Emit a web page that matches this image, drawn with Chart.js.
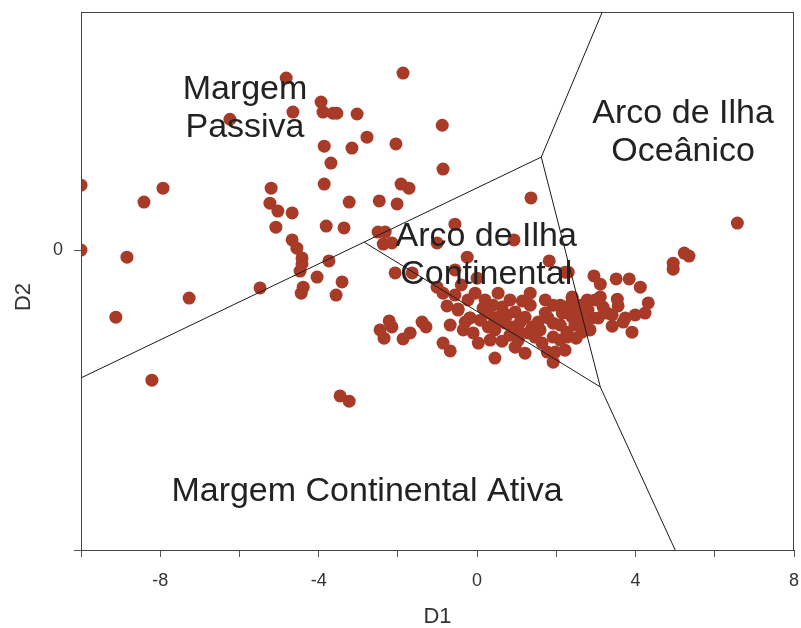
<!DOCTYPE html>
<html>
<head>
<meta charset="utf-8">
<script src="https://cdn.jsdelivr.net/npm/chart.js@4.4.1/dist/chart.umd.min.js"></script>
<style>
  html, body { margin: 0; padding: 0; background: #fff; }
  #wrap { width: 801px; height: 628px; }
</style>
</head>
<body>
<div id="wrap"><canvas id="DataChart" width="801" height="628"></canvas></div>
<script>
// discriminant scores
const d1 = [
  -10.0, -10.0, -7.93, -8.41, -8.84, -9.12, -7.27, -8.21, -6.24, -5.48,
  -4.82, -4.65, -5.20, -5.23, -5.03, -4.67, -5.08, -4.67, -4.55, -4.42,
  -4.42, -4.47, -4.39, -4.44, -4.04, -3.74, -3.41, -3.56, -3.46, -3.23,
  -1.87, -3.94, -3.89, -3.64, -3.54, -3.03, -3.86, -3.16, -2.78, -2.05,
  -3.69, -3.86, -3.23, -2.47, -2.02, -1.92, -1.72, -3.81, -3.36, -2.50,
  -2.32, -2.37, -2.15, -0.88, -0.86, 1.36, -0.56, -1.01, 0.93, -0.25,
  -0.56, 1.82, 2.22, 0.00, -2.07, -1.64,
  -2.22, -2.15, -2.45, -2.35, -1.69, -1.87, -1.39, -1.29, -0.68, -0.86,
  -0.68, -0.76, -0.48, -1.01, -0.86,
  -0.40, -0.05, 0.53, 1.14, 1.92, 2.40, -0.48, -0.18, 0.40, 0.63,
  0.08, 0.28, -0.10, 0.03, 0.45, 0.63, 0.96, 0.88, 0.96, 1.21,
  1.29, 1.54, 1.72, 1.92, 1.64, 1.92, 1.97, 1.92, 2.22, 2.27,
  2.15, 2.40, 1.46, 1.09, 0.71, 0.53, 0.28, 1.21, 0.20, 0.83,
  1.34, 1.72, 2.10, 1.59, 1.09, 0.45, 0.83, 2.47, 2.73, 2.60,
  2.90, 2.10,
  -0.23, 0.15, 0.76, 1.39, 1.79, 2.35, 2.78, 3.11, 3.41, -0.35,
  0.33, 1.04, 1.77, 2.10, 2.50, 1.34, 0.45, -0.56,
  6.57, 5.23, 5.35, 4.95, 4.95, 2.95, 3.11, 3.51, 3.84, 4.12,
  2.30, 2.40, 2.98, 3.18, 3.54, 3.56, 4.32, 4.24, 3.99, 3.74,
  3.69, 3.41, 3.91, 3.06, 2.85, 2.65, 2.55, 2.30, 2.27, 3.28,
  2.80, -0.18, -0.30
];
const d2 = [
  1.73, 0.00, 1.65, 1.28, -0.19, -1.79, -1.28, -3.47, 3.49, -1.01,
  4.59, 3.68, 1.65, 1.25, 1.04, 0.99, 0.61, 0.27, 0.05, -0.21,
  -0.37, -0.56, -0.99, -1.15, -0.72, -0.29, -0.85, -1.20, -3.89, -4.03,
  4.72, 3.95, 3.68, 3.65, 3.65, 3.63, 2.77, 2.72, 3.01, 2.83,
  2.32, 1.76, 1.28, 1.31, 1.23, 1.76, 1.65, 0.64, 0.59, 0.48,
  0.48, 0.16, 0.19, 3.33, 2.16, 1.39, 0.69, 0.19, 0.27, -0.19,
  -0.53, -0.29, -0.59, -0.75, -0.61, -0.61,
  -1.89, -2.05, -2.13, -2.35, -2.21, -2.37, -1.92, -2.05, -2.00, -2.48,
  -2.69, -1.49, -1.57, -0.99, -1.15,
  -0.93, -1.15, -1.15, -1.36, -1.47, -1.28, -1.60, -1.81, -1.47, -1.52,
  -1.87, -2.05, -2.21, -2.48, -2.88, -2.43, -2.59, -2.05, -1.65, -1.79,
  -2.21, -1.92, -1.68, -1.95, -2.48, -2.32, -2.72, -2.99, -2.67, -2.32,
  -1.68, -1.79, -2.32, -2.21, -1.95, -1.79, -1.68, -2.75, -1.33, -1.33,
  -1.47, -1.33, -2.00, -2.13, -1.92, -2.13, -2.27, -2.00, -1.92, -1.47,
  -1.81, -1.47,
  -1.33, -1.55, -1.73, -2.05, -1.81, -1.47, -1.33, -1.25, -1.73, -2.13,
  -2.40, -2.40, -2.72, -2.40, -2.35, -1.15, -1.87, -1.20,
  0.72, -0.08, -0.16, -0.35, -0.51, -0.69, -0.91, -0.77, -0.77, -0.99,
  -0.59, -1.25, -1.33, -1.52, -1.31, -1.49, -1.41, -1.68, -1.73, -1.81,
  -1.92, -2.03, -2.19, -1.81, -2.13, -2.19, -1.73, -1.68, -2.19, -1.68,
  -1.60, -1.81, -1.92
];

// field boundaries (D1, D2 end points)
const junctionTop = [1.62, 2.48];
const junctionLow = [3.11, -3.65];
const junctionLeft = [-2.85, 0.21];
const edgeTop = [3.16, 6.35];
const edgeLeft = [-10.0, -3.41];
const edgeBottom = [5.0, -8.0];

const fieldNames = [['Margem', 'Passiva'], ['Arco de Ilha', 'Oceânico'], ['Arco de Ilha', 'Continental'], ['Margem Continental Ativa']];
const fieldX = [-5.86, 5.2, 0.23, -2.78];
const fieldY = [4.35, 3.71, 0.45, -6.35];

const xTicks = [-10, -8, -6, -4, -2, 0, 2, 4, 6, 8];
const yTicks = [-8, 0];

const pts = d1.map((v, i) => ({ x: v, y: d2[i] }));
const seg = (a, b) => ({
  data: [{ x: a[0], y: a[1] }, { x: b[0], y: b[1] }],
  showLine: true, borderColor: '#1a1a1a', borderWidth: 1,
  pointRadius: 0, pointHoverRadius: 0, fill: false, clip: 0
});

const frame = {
  id: 'frame',
  afterDatasetsDraw(chart) {
    const ctx = chart.ctx, a = chart.chartArea;
    const xs = chart.scales.x, ys = chart.scales.y;
    ctx.save();
    ctx.strokeStyle = '#444';
    ctx.lineWidth = 1;
    ctx.strokeRect(a.left + 0.5, a.top + 0.5, a.right - a.left - 1, a.bottom - a.top);
    // field labels
    ctx.fillStyle = '#222';
    ctx.font = '34px "Liberation Sans", Arial, sans-serif';
    ctx.textAlign = 'center';
    ctx.textBaseline = 'middle';
    for (let i = 0; i < fieldNames.length; i++) {
      const px = xs.getPixelForValue(fieldX[i]);
      const py = ys.getPixelForValue(fieldY[i]) + 3;
      fieldNames[i].forEach((t, j) => ctx.fillText(t, px, py + j * 38));
    }
    // axis titles
    ctx.fillStyle = '#333';
    ctx.font = '22px "Liberation Sans", Arial, sans-serif';
    ctx.fillText('D1', (a.left + a.right) / 2, 617);
    ctx.translate(24, 297);
    ctx.rotate(-Math.PI / 2);
    ctx.fillText('D2', 0, 0);
    ctx.restore();
  }
};

const tickFont = { family: 'Liberation Sans', size: 18 };
const noPad = s => { s.paddingLeft = 0; s.paddingRight = 0; s.paddingTop = 0; s.paddingBottom = 0; };

new Chart(document.getElementById('DataChart'), {
  type: 'scatter',
  data: {
    datasets: [
      seg(edgeLeft, junctionTop),
      seg(junctionTop, edgeTop),
      seg(junctionTop, junctionLow),
      seg(junctionLow, edgeBottom),
      seg(junctionLow, junctionLeft),
      {
        data: pts,
        backgroundColor: '#a83b28',
        borderWidth: 0,
        pointRadius: 6.5,
        pointHoverRadius: 6.5,
        clip: 0
      }
    ]
  },
  options: {
    responsive: false,
    animation: false,
    events: [],
    layout: { padding: { top: 12, right: 7, left: 0, bottom: 0 } },
    plugins: { legend: { display: false }, tooltip: { enabled: false } },
    scales: {
      x: {
        type: 'linear', min: -10, max: 8,
        afterBuildTicks: s => { s.ticks = xTicks.map(v => ({ value: v })); },
        afterFit: s => { s.height = 78; noPad(s); },
        ticks: {
          color: '#333', font: tickFont, padding: 13, maxRotation: 0,
          callback: v => (v % 4 === 0 ? String(v) : '')
        },
        grid: { drawOnChartArea: false, tickLength: 7, color: '#555' },
        border: { color: '#444' }
      },
      y: {
        type: 'linear', min: -8, max: 6.35,
        afterBuildTicks: s => { s.ticks = yTicks.map(v => ({ value: v })); },
        afterFit: s => { s.width = 81; noPad(s); },
        ticks: {
          color: '#333', font: tickFont, padding: 11,
          callback: v => (v === 0 ? '0' : '')
        },
        grid: { drawOnChartArea: false, tickLength: 7, color: '#555' },
        border: { color: '#444' }
      }
    }
  },
  plugins: [frame]
});
</script>
</body>
</html>
